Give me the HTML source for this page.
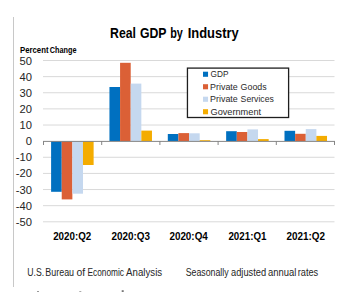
<!DOCTYPE html>
<html><head><meta charset="utf-8"><style>
html,body{margin:0;padding:0;background:#fff;width:355px;height:292px;overflow:hidden}
svg{display:block;font-family:"Liberation Sans",sans-serif}
</style></head><body>
<svg width="355" height="292" viewBox="0 0 355 292">
<rect x="0" y="0" width="355" height="292" fill="#fff"/>
<line x1="13.5" y1="17" x2="13.5" y2="287" stroke="#C8C8C8" stroke-width="1"/>
<text x="110.04" y="37.6" font-size="14.2" font-weight="bold" fill="#000" textLength="25.9" lengthAdjust="spacingAndGlyphs">Real</text><text x="139.96" y="37.6" font-size="14.2" font-weight="bold" fill="#000" textLength="26.57" lengthAdjust="spacingAndGlyphs">GDP</text><text x="170.14" y="37.6" font-size="14.2" font-weight="bold" fill="#000" textLength="12.61" lengthAdjust="spacingAndGlyphs">by</text><text x="187.69" y="37.6" font-size="14.2" font-weight="bold" fill="#000" textLength="51.1" lengthAdjust="spacingAndGlyphs">Industry</text>
<text x="20.04" y="52.7" font-size="8.7" font-weight="bold" fill="#000" textLength="28.47" lengthAdjust="spacingAndGlyphs">Percent</text><text x="49.79" y="52.7" font-size="8.7" font-weight="bold" fill="#000" textLength="26.71" lengthAdjust="spacingAndGlyphs">Change</text>
<line x1="43" y1="60.50" x2="334.5" y2="60.50" stroke="#D9D9D9" stroke-width="1"/><line x1="43" y1="76.63" x2="334.5" y2="76.63" stroke="#D9D9D9" stroke-width="1"/><line x1="43" y1="92.76" x2="334.5" y2="92.76" stroke="#D9D9D9" stroke-width="1"/><line x1="43" y1="108.89" x2="334.5" y2="108.89" stroke="#D9D9D9" stroke-width="1"/><line x1="43" y1="125.02" x2="334.5" y2="125.02" stroke="#D9D9D9" stroke-width="1"/><line x1="43" y1="157.28" x2="334.5" y2="157.28" stroke="#D9D9D9" stroke-width="1"/><line x1="43" y1="173.41" x2="334.5" y2="173.41" stroke="#D9D9D9" stroke-width="1"/><line x1="43" y1="189.54" x2="334.5" y2="189.54" stroke="#D9D9D9" stroke-width="1"/><line x1="43" y1="205.67" x2="334.5" y2="205.67" stroke="#D9D9D9" stroke-width="1"/><line x1="43" y1="221.80" x2="334.5" y2="221.80" stroke="#D9D9D9" stroke-width="1"/>
<rect x="51.10" y="141.00" width="10.63" height="50.80" fill="#0070C0"/><rect x="61.73" y="141.00" width="10.63" height="58.40" fill="#DB6036"/><rect x="72.36" y="141.00" width="10.63" height="52.70" fill="#C5D8EF"/><rect x="82.99" y="141.00" width="10.63" height="24.00" fill="#F4AC00"/><rect x="109.45" y="87.00" width="10.63" height="54.00" fill="#0070C0"/><rect x="120.08" y="62.80" width="10.63" height="78.20" fill="#DB6036"/><rect x="130.71" y="83.60" width="10.63" height="57.40" fill="#C5D8EF"/><rect x="141.34" y="130.60" width="10.63" height="10.40" fill="#F4AC00"/><rect x="167.80" y="134.00" width="10.63" height="7.00" fill="#0070C0"/><rect x="178.43" y="133.10" width="10.63" height="7.90" fill="#DB6036"/><rect x="189.06" y="133.30" width="10.63" height="7.70" fill="#C5D8EF"/><rect x="199.69" y="140.20" width="10.63" height="0.80" fill="#F4AC00"/><rect x="226.15" y="131.20" width="10.63" height="9.80" fill="#0070C0"/><rect x="236.78" y="132.00" width="10.63" height="9.00" fill="#DB6036"/><rect x="247.41" y="129.40" width="10.63" height="11.60" fill="#C5D8EF"/><rect x="258.04" y="139.10" width="10.63" height="1.90" fill="#F4AC00"/><rect x="284.50" y="130.80" width="10.63" height="10.20" fill="#0070C0"/><rect x="295.13" y="133.80" width="10.63" height="7.20" fill="#DB6036"/><rect x="305.76" y="129.10" width="10.63" height="11.90" fill="#C5D8EF"/><rect x="316.39" y="135.90" width="10.63" height="5.10" fill="#F4AC00"/>
<line x1="43" y1="141.4" x2="335" y2="141.4" stroke="#868686" stroke-width="1"/>
<line x1="43.50" y1="141" x2="43.50" y2="145" stroke="#868686" stroke-width="1"/><line x1="101.70" y1="141" x2="101.70" y2="145" stroke="#868686" stroke-width="1"/><line x1="159.90" y1="141" x2="159.90" y2="145" stroke="#868686" stroke-width="1"/><line x1="218.10" y1="141" x2="218.10" y2="145" stroke="#868686" stroke-width="1"/><line x1="276.30" y1="141" x2="276.30" y2="145" stroke="#868686" stroke-width="1"/><line x1="334.50" y1="141" x2="334.50" y2="145" stroke="#868686" stroke-width="1"/>
<text x="31.9" y="64.50" text-anchor="end" font-size="11.2" fill="#262626">50</text><text x="31.9" y="80.63" text-anchor="end" font-size="11.2" fill="#262626">40</text><text x="31.9" y="96.76" text-anchor="end" font-size="11.2" fill="#262626">30</text><text x="31.9" y="112.89" text-anchor="end" font-size="11.2" fill="#262626">20</text><text x="31.9" y="129.02" text-anchor="end" font-size="11.2" fill="#262626">10</text><text x="31.9" y="145.15" text-anchor="end" font-size="11.2" fill="#262626">0</text><text x="31.9" y="161.28" text-anchor="end" font-size="11.2" fill="#262626">-10</text><text x="31.9" y="177.41" text-anchor="end" font-size="11.2" fill="#262626">-20</text><text x="31.9" y="193.54" text-anchor="end" font-size="11.2" fill="#262626">-30</text><text x="31.9" y="209.67" text-anchor="end" font-size="11.2" fill="#262626">-40</text><text x="31.9" y="225.80" text-anchor="end" font-size="11.2" fill="#262626">-50</text>
<rect x="187.45" y="68.1" width="101.15" height="49.4" fill="#fff" stroke="#1e1e1e" stroke-width="1.3"/><rect x="203" y="71.70" width="5.05" height="5.1" fill="#0070C0"/><text x="210.54" y="77.1" font-size="8.6" font-weight="normal" fill="#2a2a2a" textLength="17.94" lengthAdjust="spacingAndGlyphs">GDP</text><rect x="203" y="84.20" width="5.05" height="5.1" fill="#DB6036"/><text x="210.12" y="89.6" font-size="8.6" font-weight="normal" fill="#2a2a2a" textLength="27.66" lengthAdjust="spacingAndGlyphs">Private</text><text x="240.61" y="89.6" font-size="8.6" font-weight="normal" fill="#2a2a2a" textLength="26.02" lengthAdjust="spacingAndGlyphs">Goods</text><rect x="203" y="96.70" width="5.05" height="5.1" fill="#C5D8EF"/><text x="210.12" y="102.1" font-size="8.6" font-weight="normal" fill="#2a2a2a" textLength="27.66" lengthAdjust="spacingAndGlyphs">Private</text><text x="240.62" y="102.1" font-size="8.6" font-weight="normal" fill="#2a2a2a" textLength="33.21" lengthAdjust="spacingAndGlyphs">Services</text><rect x="203" y="109.20" width="5.05" height="5.1" fill="#F4AC00"/><text x="210.5" y="114.6" font-size="8.6" font-weight="normal" fill="#2a2a2a" textLength="50.55" lengthAdjust="spacingAndGlyphs">Government</text>
<text x="53.2" y="239.6" font-size="10.5" font-weight="bold" fill="#000" textLength="38.05" lengthAdjust="spacingAndGlyphs">2020:Q2</text><text x="111.45" y="239.6" font-size="10.5" font-weight="bold" fill="#000" textLength="38.51" lengthAdjust="spacingAndGlyphs">2020:Q3</text><text x="169.45" y="239.6" font-size="10.5" font-weight="bold" fill="#000" textLength="38.35" lengthAdjust="spacingAndGlyphs">2020:Q4</text><text x="228.45" y="239.6" font-size="10.5" font-weight="bold" fill="#000" textLength="37.98" lengthAdjust="spacingAndGlyphs">2021:Q1</text><text x="286.45" y="239.6" font-size="10.5" font-weight="bold" fill="#000" textLength="38.51" lengthAdjust="spacingAndGlyphs">2021:Q2</text>
<text x="27.25" y="275.6" font-size="10.0" font-weight="normal" fill="#262626" textLength="16.88" lengthAdjust="spacingAndGlyphs">U.S.</text><text x="45.32" y="275.6" font-size="10.0" font-weight="normal" fill="#262626" textLength="28.74" lengthAdjust="spacingAndGlyphs">Bureau</text><text x="76.51" y="275.6" font-size="10.0" font-weight="normal" fill="#262626" textLength="8.66" lengthAdjust="spacingAndGlyphs">of</text><text x="87.57" y="275.6" font-size="10.0" font-weight="normal" fill="#262626" textLength="36.46" lengthAdjust="spacingAndGlyphs">Economic</text><text x="126.1" y="275.6" font-size="10.0" font-weight="normal" fill="#262626" textLength="36.06" lengthAdjust="spacingAndGlyphs">Analysis</text>
<text x="185.66" y="275.6" font-size="10.0" font-weight="normal" fill="#262626" textLength="42.98" lengthAdjust="spacingAndGlyphs">Seasonally</text><text x="231.05" y="275.6" font-size="10.0" font-weight="normal" fill="#262626" textLength="35.09" lengthAdjust="spacingAndGlyphs">adjusted</text><text x="267.95" y="275.6" font-size="10.0" font-weight="normal" fill="#262626" textLength="28.37" lengthAdjust="spacingAndGlyphs">annual</text><text x="297.72" y="275.6" font-size="10.0" font-weight="normal" fill="#262626" textLength="20.51" lengthAdjust="spacingAndGlyphs">rates</text>
<rect x="37" y="291" width="2" height="1" fill="#999"/><rect x="79.3" y="291" width="2" height="1" fill="#aaa"/><rect x="121.7" y="290.2" width="2" height="1.8" fill="#777"/>
</svg>
</body></html>
